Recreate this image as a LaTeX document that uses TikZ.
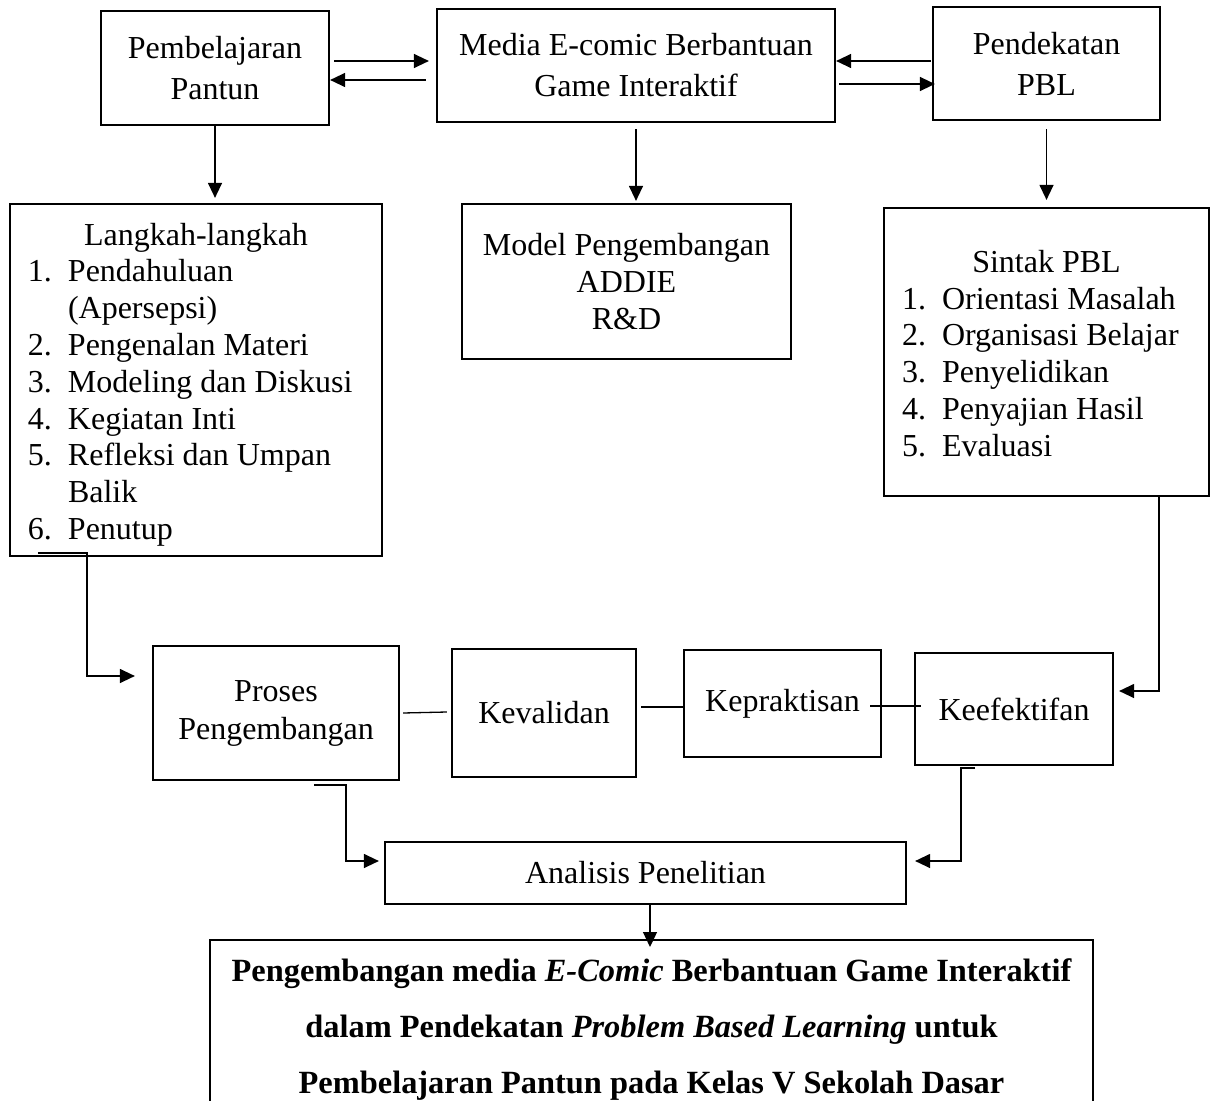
\documentclass[tikz,border=0pt]{standalone}
\usepackage{fontspec}
\setmainfont{Liberation Serif}
\usetikzlibrary{arrows.meta,calc}

\tikzset{
  box/.style={draw, line width=1.1pt, inner sep=0pt, align=center},
  listbox/.style={draw, line width=1.1pt, inner sep=0pt,
    font=\fontsize{16pt}{18.4pt}\selectfont},
  arr/.style={->, line width=0.65pt},
  link/.style={line width=0.65pt}
}

\begin{document}
\begin{tikzpicture}[x=0.5pt, y=-0.5pt, >={Triangle[length=7.5pt,width=7pt]},
    font=\fontsize{16pt}{20.5pt}\selectfont]
    \useasboundingbox (0,0) rectangle (1214,1101);
    \clip (0,0) rectangle (1214,1101);
    % Top row: the three starting points
    \node[box, minimum width=114pt, minimum height=57pt] (pantun) at (215,68) {Pembelajaran\\Pantun};
    \node[box, minimum width=199pt, minimum height=56.5pt] (media) at (636,65.5) {Media E-comic Berbantuan\\Game Interaktif};
    \node[box, minimum width=113.5pt, minimum height=56.5pt] (pbl) at (1046.5,63.5) {Pendekatan\\PBL};
    % Second row: what each of them brings in
    \node[listbox, minimum width=186pt, minimum height=176pt] (langkah) at (196,380) {%
      \raisebox{-2.5pt}[\height][\depth]{%
      \begin{tabular}{@{\hspace{9pt}}p{20pt}@{}p{157pt}@{}}
        \multicolumn{2}{c}{Langkah-langkah}\\
        1. & Pendahuluan\\
           & (Apersepsi)\\
        2. & Pengenalan Materi\\
        3. & Modeling dan Diskusi\\
        4. & Kegiatan Inti\\
        5. & Refleksi dan Umpan\\
           & Balik\\
        6. & Penutup
      \end{tabular}}};
    \node[box, minimum width=164.5pt, minimum height=77.5pt,
      font=\fontsize{16pt}{18.7pt}\selectfont] (model) at (626.5,281.5) {Model Pengembangan\\ADDIE\\R\&D};
    \node[listbox, minimum width=162.5pt, minimum height=144pt] (sintak) at (1046.5,352) {%
      \raisebox{-2.5pt}[\height][\depth]{%
      \begin{tabular}{@{\hspace{9pt}}p{20pt}@{}p{133.5pt}@{}}
        \multicolumn{2}{c}{Sintak PBL}\\
        1. & Orientasi Masalah\\
        2. & Organisasi Belajar\\
        3. & Penyelidikan\\
        4. & Penyajian Hasil\\
        5. & Evaluasi
      \end{tabular}}};
    % Third row: the development and its criteria
    \node[box, minimum width=123pt, minimum height=67pt,
      font=\fontsize{16pt}{19pt}\selectfont] (proses) at (276,713) {Proses\\Pengembangan};
    \node[box, minimum width=92pt, minimum height=64pt] (valid) at (544,713) {Kevalidan};
    \node[box, minimum width=98.5pt, minimum height=53.5pt] (praktis) at (782.5,703.5) {Kepraktisan};
    \node[box, minimum width=99pt, minimum height=56pt] (efektif) at (1014,709) {Keefektifan};
    % Bottom: analysis and the resulting title
    \node[box, minimum width=260.5pt, minimum height=31pt] (analisis) at (645.5,873) {Analisis Penelitian};
    \node[box, anchor=north, minimum width=441.5pt, inner ysep=9.3pt,
      font=\fontsize{16.2pt}{28pt}\selectfont\bfseries] (hasil) at (651.5,939)
      {Pengembangan media \textit{E-Comic} Berbantuan Game Interaktif\\
       dalam Pendekatan \textit{Problem Based Learning} untuk\\
       Pembelajaran Pantun pada Kelas V Sekolah Dasar};
    % Arrows between the top boxes
    \draw[arr] ($(pantun.east)+(4,-7)$) -- ($(media.west)+(-7,-4.5)$);
    \draw[arr] ($(media.west)+(-10,14.5)$) -- ($(pantun.east)+(0,12)$);
    \draw[arr] ($(pbl.west)+(-1,-2.5)$) -- ($(media.east)+(0,-4.5)$);
    \draw[arr] ($(media.east)+(3,18.5)$) -- ($(pbl.west)+(3,20.5)$);
    % Down to the second row
    \draw[arr] (pantun.south) -- ($(pantun.south |- langkah.north)+(0,-5)$);
    \draw[arr] ($(media.south)+(0,6)$) -- ($(media.south |- model.north)+(0,-2)$);
    \draw[arr] ($(pbl.south)+(0,8)$) -- ($(pbl.south |- sintak.north)+(0,-7)$);
    % Into the development row
    \draw[arr] ($(langkah.south west)+(29,-4)$) -| ($(proses.west)+(-65,-37)$) -- ($(proses.west)+(-17,-37)$);
    \draw[link] ($(proses.east)+(3,0)$) -- ($(valid.west)+(-4,-1)$);
    \draw[link] ($(valid.east)+(4,-6)$) -- ($(praktis.west)+(0,3.5)$);
    \draw[link] ($(praktis.east)+(-12,2.5)$) -- ($(efektif.west)+(7,-3)$);
    \draw[arr] ($(sintak.south east)+(-51,0)$) |- ($(efektif.east)+(5,-18)$);
    % Down to the analysis and the result
    \draw[arr] ($(proses.south)+(38,4)$) -| ($(analisis.west)+(-38,-12)$) -- ($(analisis.west)+(-5,-12)$);
    \draw[arr] ($(efektif.south)+(-39,2)$) -- ++(-14,0) |- ($(analisis.east)+(8,-12)$);
    \draw[arr] ($(analisis.south)+(4.5,-2)$) -- ($(hasil.north)+(-1.5,8)$);
\end{tikzpicture}
\end{document}
